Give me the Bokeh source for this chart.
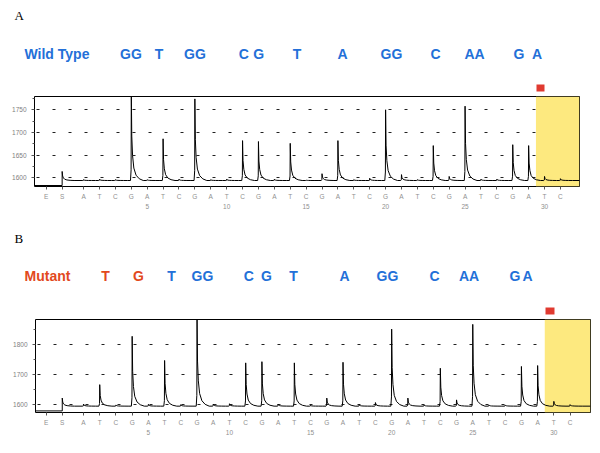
from bokeh.plotting import figure
from bokeh.models import Range1d, FixedTicker, LinearAxis, BoxAnnotation
from bokeh.layouts import column
from bokeh.embed import file_html
from bokeh.resources import INLINE
from bokeh.core.properties import value

# ---------------- data ----------------
disp_letters = ["E", "S",
                "A", "T", "C", "G", "A", "T", "C", "G", "A", "T", "C", "G",
                "A", "T", "C", "G", "A", "T", "C", "G", "A", "T", "C", "G",
                "A", "T", "C", "G", "A", "T", "C"]
disp_positions = list(range(1, 32))
number_ticks = [5, 10, 15, 20, 25, 30]

# panel A (wild type)
a_es_pos = [-1.35, -0.35]
a_pre_level = 1583
a_s_top = 1614
a_base = 1594
a_peaks = [1596, 1597, 1596, 1790, 1596, 1686, 1597, 1774, 1596, 1597,
           1682, 1680, 1597, 1676, 1595, 1609, 1682, 1596, 1599, 1750,
           1607, 1596, 1671, 1603, 1758, 1597, 1597, 1673, 1671, 1603, 1598]
a_yticks = [1600, 1650, 1700, 1750]
a_yminor = [1625, 1675, 1725, 1775]
a_shade_start = 29.46

# panel B (mutant)
b_es_pos = [-1.30, -0.31]
b_pre_level = 1577
b_s_top = 1620
b_base = 1593
b_peaks = [1600, 1665, 1597, 1827, 1599, 1746, 1598, 1895, 1600, 1601,
           1738, 1742, 1600, 1738, 1596, 1620, 1740, 1598, 1605, 1851,
           1620, 1597, 1720, 1614, 1867, 1597, 1597, 1726, 1729, 1609, 1598]
b_yticks = [1600, 1700, 1800]
b_yminor = [1650, 1750, 1850]
b_shade_start = 29.44

# header texts
wt_label = "Wild Type"
wt_bases = ["GG", "T", "GG", "C", "G", "T", "A", "GG", "C", "AA", "G", "A"]
wt_x = [130.5, 158.5, 194.5, 243.3, 258.3, 296.5, 342, 391, 435, 474, 518.5, 536.5]
mut_label = "Mutant"
mut_bases = ["T", "G", "T", "GG", "C", "G", "T", "A", "GG", "C", "AA", "G", "A"]
mut_x = [105, 138, 171, 202, 248.3, 266, 293, 344, 387, 434, 468.5, 514.5, 527]
mut_colors = ["red", "red"] + ["blue"] * 11

BLUE = "#2370d8"
RED = "#e2491d"
YELLOW = "#fde97f"
FONT = "Liberation Sans"
W = 600

# peak shape template (relative offset in dispensation units, fraction of height)
SHAPE_DX = [-0.05, -0.012, 0.0, 0.03, 0.08, 0.16, 0.3, 0.5, 0.75]
SHAPE_FR = [0.0, 0.12, 1.0, 0.5, 0.28, 0.14, 0.06, 0.02, 0.0]


def build_trace(x0, x1, s_pos, pre, s_top, base, heights):
    xs = [x0, s_pos, s_pos]
    ys = [pre, pre, s_top]
    for dx, fr in zip(SHAPE_DX[3:], SHAPE_FR[3:]):
        xs.append(s_pos + dx)
        ys.append(base + (s_top - base) * fr)
    for pos, h in zip(disp_positions, heights):
        for dx, fr in zip(SHAPE_DX, SHAPE_FR):
            xs.append(pos + dx)
            ys.append(base + (h - base) * fr)
    xs.append(x1)
    ys.append(base)
    return xs, ys


def header(height, y0, title, label, label_color, bases, bx, bcolors, box):
    p = figure(width=W, height=height, x_range=Range1d(0, W),
               y_range=Range1d(y0 + height, y0), toolbar_location=None,
               output_backend="svg", x_axis_type=None, y_axis_type=None,
               min_border=0, title=None, frame_align=False)
    p.outline_line_color = None
    p.xgrid.visible = False
    p.ygrid.visible = False
    ty, ly = title[1], title[2]
    p.text(x=[14], y=[ty], text=[title[0]], text_font=value("Liberation Serif"),
           text_font_size="13px", text_color="black", text_align="left",
           text_baseline="middle")
    p.text(x=[24], y=[ly], text=[label], text_font=value(FONT), text_font_style="bold",
           text_font_size="14px", text_color=label_color, text_align="left",
           text_baseline="middle")
    cols = [BLUE if c == "blue" else RED for c in bcolors]
    p.text(x=bx, y=[ly] * len(bx), text=bases, text_font=value(FONT),
           text_font_style="bold", text_font_size="14px", text_color=cols,
           text_align="center", text_baseline="middle")
    p.quad(left=[box[0]], right=[box[1]], top=[box[2]], bottom=[box[3]],
           fill_color="#e03a30", line_color=None)
    return p


def panel(height, xr, yr, es_pos, pre, s_top, base, heights, yticks, yminor, shade,
          mb_left, mb_right, mb_bottom):
    p = figure(width=W, height=height, x_range=Range1d(*xr), y_range=Range1d(*yr),
               toolbar_location=None, output_backend="svg", title=None,
               frame_align=False,
               min_border_left=mb_left, min_border_right=mb_right,
               min_border_top=3, min_border_bottom=mb_bottom)
    p.outline_line_color = "black"
    p.outline_line_width = 1
    p.background_fill_color = "white"
    ticks = es_pos + disp_positions
    # y axis
    p.yaxis.ticker = FixedTicker(ticks=yticks, minor_ticks=yminor)
    p.yaxis.axis_line_color = None
    p.yaxis.major_tick_out = 3
    p.yaxis.major_tick_in = 0
    p.yaxis.minor_tick_out = 2
    p.yaxis.minor_tick_in = 0
    p.yaxis.major_tick_line_color = "#555555"
    p.yaxis.minor_tick_line_color = "#555555"
    p.yaxis.major_label_text_font = FONT
    p.yaxis.major_label_text_font_size = "6.5px"
    p.yaxis.major_label_text_color = "#808080"
    p.yaxis.major_label_standoff = 5
    # x axis with dispensation letters
    p.xaxis.ticker = FixedTicker(ticks=ticks, minor_ticks=[])
    p.xaxis.major_label_overrides = {t: l for t, l in zip(ticks, disp_letters)}
    p.xaxis.axis_line_color = None
    p.xaxis.major_tick_out = 3
    p.xaxis.major_tick_in = 0
    p.xaxis.major_tick_line_color = "#555555"
    p.xaxis.major_label_text_font = FONT
    p.xaxis.major_label_text_font_size = "6.5px"
    p.xaxis.major_label_text_color = "#909090"
    p.xaxis.major_label_standoff = 3
    num_axis = LinearAxis(ticker=FixedTicker(ticks=number_ticks, minor_ticks=[]),
                          axis_line_color=None, major_tick_out=0, major_tick_in=0,
                          minor_tick_out=0, minor_tick_in=0,
                          major_label_standoff=1,
                          major_label_text_font=FONT,
                          major_label_text_font_size="6.5px",
                          major_label_text_color="#909090")
    p.add_layout(num_axis, "below")
    # grid
    p.xgrid.visible = False
    p.ygrid.ticker = FixedTicker(ticks=yticks)
    p.ygrid.grid_line_color = "#222222"
    p.ygrid.grid_line_dash = "3 13"
    p.ygrid.grid_line_dash_offset = 14
    p.ygrid.grid_line_width = 1
    # yellow region
    p.add_layout(BoxAnnotation(left=shade, fill_color=YELLOW, fill_alpha=1.0,
                               line_color=None, level="underlay"))
    xs, ys = build_trace(xr[0], xr[1], es_pos[1], pre, s_top, base, heights)
    p.line(xs, ys, line_color="black", line_width=1)
    return p


# build headers (title tuple: text, title y, label y)
hA = header(93, 0, ("A", 15, 53), wt_label, BLUE, wt_bases, wt_x,
            ["blue"] * len(wt_x), (536, 544, 91, 84))
pA = panel(129, (-2.09, 32.2), (1580.8, 1779.3), a_es_pos, a_pre_level, a_s_top, a_base,
           a_peaks, a_yticks, a_yminor, a_shade_start, 34, W - 579, 36)
hB = header(94, 222, ("B", 237.5, 275.7), mut_label, RED, mut_bases, mut_x,
            mut_colors, (545, 554, 314, 307))
pB = panel(134, (-1.96, 32.26), (1571.7, 1883.3), b_es_pos, b_pre_level, b_s_top, b_base,
           b_peaks, b_yticks, b_yminor, b_shade_start, 35, W - 590, 38)

layout = column(hA, pA, hB, pB, spacing=0)
open("out.html", "w").write(file_html(layout, INLINE))
